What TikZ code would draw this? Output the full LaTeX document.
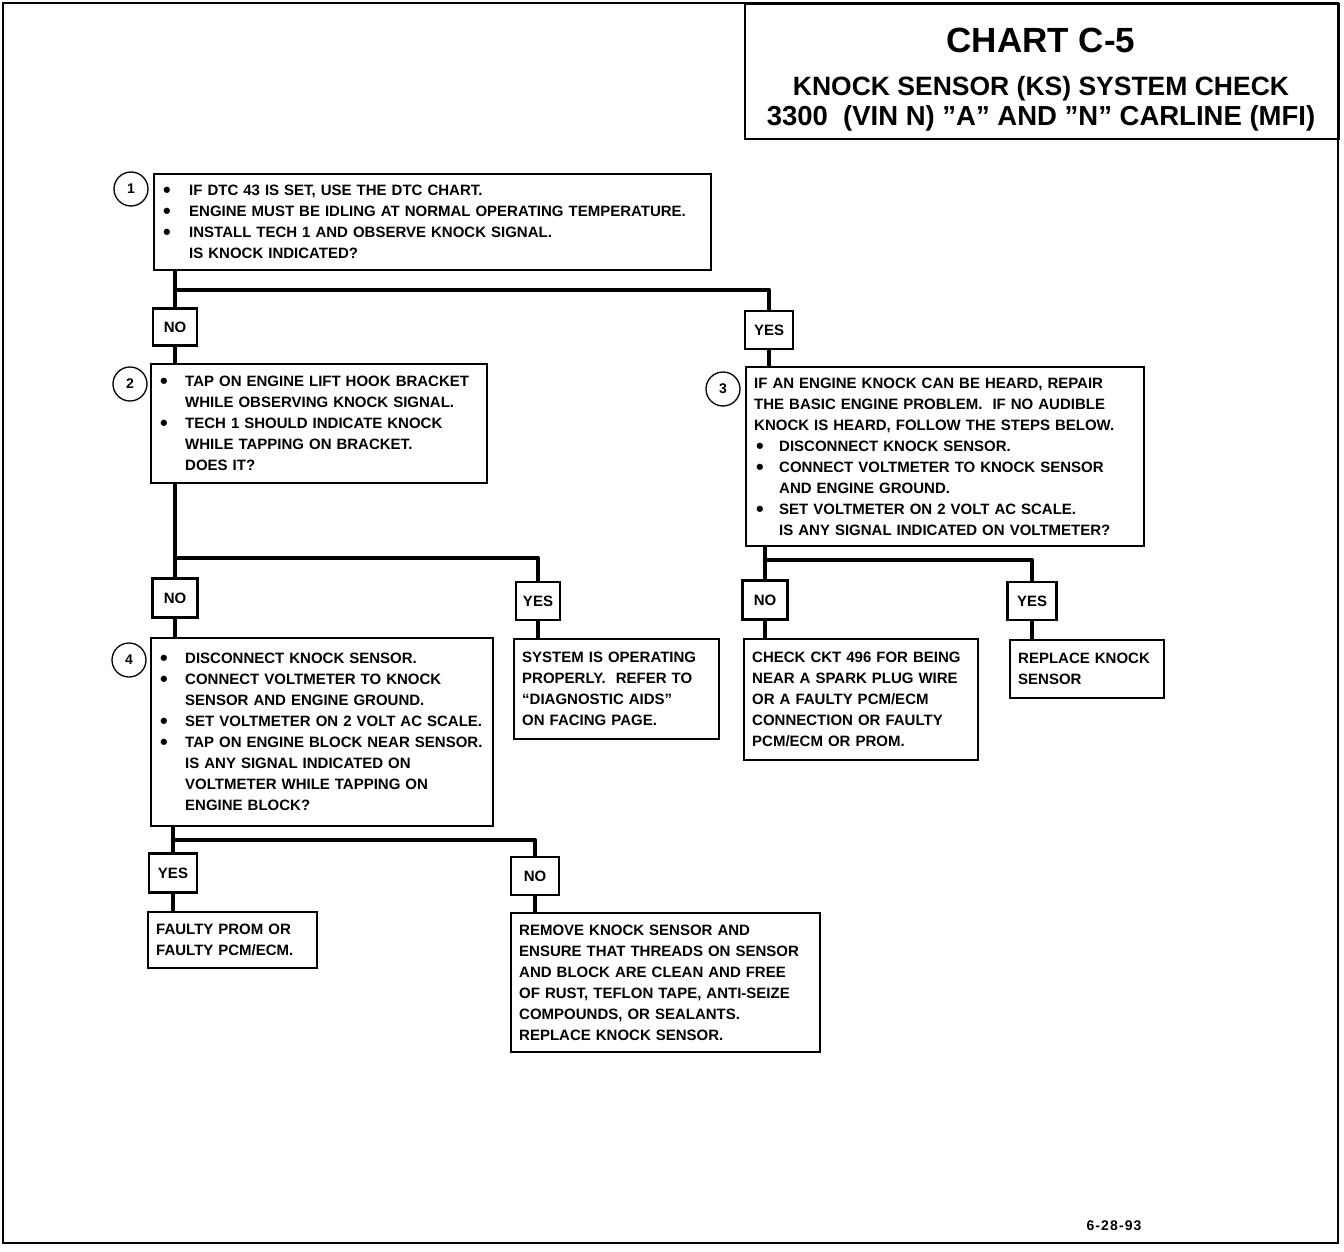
\documentclass[tikz,border=0pt]{standalone}
\usepackage{graphicx}
\usepackage{fontspec}
\setmainfont{Liberation Sans}
\usetikzlibrary{positioning}
\tikzset{
  frame/.style={line width=2.4pt},
  qbox/.style={draw,line width=2.4pt,anchor=north west,align=left,
    inner xsep=9pt,inner ysep=0pt,font=\fontsize{15}{21}\selectfont\bfseries},
  endbox/.style={qbox,inner xsep=8pt},
  ans/.style={draw,line width=2.4pt,minimum width=44pt,minimum height=37pt,
    inner sep=0pt,font=\fontsize{15}{18}\selectfont\bfseries},
  stepnum/.style={circle,draw,line width=1.3pt,minimum size=34pt,
    inner sep=0pt,font=\fontsize{14}{14}\selectfont\bfseries},
  conn/.style={line width=4.5pt,line join=round},
  titletxt/.style={anchor=base,inner sep=0pt,font=\bfseries},
}
\newcommand{\bul}[1][25pt]{\makebox[#1][l]{\raisebox{-2pt}{\scalebox{1.45}{\textbullet}}}}

\begin{document}
\begin{tikzpicture}[x=1pt,y=-1pt]
  \useasboundingbox (0,0) rectangle (1344,1252);
  \draw[frame] (3,3) rectangle (1338,1243);

  % title block
  \node[draw,line width=2.4pt,anchor=north west,minimum width=594pt,
    minimum height=135pt,inner sep=0pt] (chart) at (744,3) {};
  \node[titletxt,font=\fontsize{35}{35}\selectfont\bfseries] (t1) at (1041,53) {CHART C-5};
  \node[titletxt,font=\fontsize{26.5}{27}\selectfont\bfseries] (t2) at (1041,96) {KNOCK SENSOR (KS) SYSTEM CHECK};
  \node[titletxt,font=\fontsize{27.5}{28}\selectfont\bfseries] (t3) at (1041,126) {3300\ \ (VIN N) ”A” AND ”N” CARLINE (MFI)};

  % step numbers
  \foreach \n/\x/\y in {1/131/189,2/130/384,3/723/389,4/129/660}
    \node[stepnum] (c\n) at (\x,\y) {\n};

  % questions
  \node[qbox,text width=539pt,minimum height=96pt] (b1) at (153,173) {%
    \bul[26pt]IF DTC 43 IS SET, USE THE DTC CHART.\\
    \bul[26pt]ENGINE MUST BE IDLING AT NORMAL OPERATING TEMPERATURE.\\
    \bul[26pt]INSTALL TECH 1 AND OBSERVE KNOCK SIGNAL.\\
    \hspace*{26pt}IS KNOCK INDICATED?};
  \node[qbox,text width=318pt,minimum height=119pt] (b2) at (150,363) {%
    \bul TAP ON ENGINE LIFT HOOK BRACKET\\
    \hspace*{25pt}WHILE OBSERVING KNOCK SIGNAL.\\
    \bul TECH 1 SHOULD INDICATE KNOCK\\
    \hspace*{25pt}WHILE TAPPING ON BRACKET.\\
    \hspace*{25pt}DOES IT?};
  \node[qbox,inner xsep=8pt,text width=382pt,minimum height=179pt] (b3) at (745,366) {%
    IF AN ENGINE KNOCK CAN BE HEARD, REPAIR\\
    THE BASIC ENGINE PROBLEM.\ \ IF NO AUDIBLE\\
    KNOCK IS HEARD, FOLLOW THE STEPS BELOW.\\
    \hspace*{2pt}\bul[23pt]DISCONNECT KNOCK SENSOR.\\
    \hspace*{2pt}\bul[23pt]CONNECT VOLTMETER TO KNOCK SENSOR\\
    \hspace*{25pt}AND ENGINE GROUND.\\
    \hspace*{2pt}\bul[23pt]SET VOLTMETER ON 2 VOLT AC SCALE.\\
    \hspace*{25pt}IS ANY SIGNAL INDICATED ON VOLTMETER?};
  \node[qbox,text width=324pt,minimum height=188pt] (b4) at (150,637) {%
    \bul DISCONNECT KNOCK SENSOR.\\
    \bul CONNECT VOLTMETER TO KNOCK\\
    \hspace*{25pt}SENSOR AND ENGINE GROUND.\\
    \bul SET VOLTMETER ON 2 VOLT AC SCALE.\\
    \bul TAP ON ENGINE BLOCK NEAR SENSOR.\\
    \hspace*{25pt}IS ANY SIGNAL INDICATED ON\\
    \hspace*{25pt}VOLTMETER WHILE TAPPING ON\\
    \hspace*{25pt}ENGINE BLOCK?};

  % results
  \node[endbox,text width=189pt,minimum height=100pt] (ok) at (513,638) {%
    SYSTEM IS OPERATING\\
    PROPERLY.\ \ REFER TO\\
    “DIAGNOSTIC AIDS”\\
    ON FACING PAGE.};
  \node[endbox,text width=218pt,minimum height=121pt] (ckt) at (743,638) {%
    CHECK CKT 496 FOR BEING\\
    NEAR A SPARK PLUG WIRE\\
    OR A FAULTY PCM/ECM\\
    CONNECTION OR FAULTY\\
    PCM/ECM OR PROM.};
  \node[endbox,text width=138pt,minimum height=58pt] (repl) at (1009,639) {%
    REPLACE KNOCK\\
    SENSOR};
  \node[endbox,text width=153pt,minimum height=56pt] (prom) at (147,911) {%
    FAULTY PROM OR\\
    FAULTY PCM/ECM.};
  \node[endbox,text width=293pt,minimum height=139pt] (rem) at (510,912) {%
    REMOVE KNOCK SENSOR AND\\
    ENSURE THAT THREADS ON SENSOR\\
    AND BLOCK ARE CLEAN AND FREE\\
    OF RUST, TEFLON TAPE, ANTI-SEIZE\\
    COMPOUNDS, OR SEALANTS.\\
    REPLACE KNOCK SENSOR.};

  % answers
  \node[ans] (no1) at (175,327) {NO};
  \node[ans,minimum width=48pt,minimum height=38pt] (yes1) at (769,330) {YES};
  \node[ans,minimum width=45pt,minimum height=39pt] (no2) at (175,598) {NO};
  \node[ans,minimum height=38pt] (yes2) at (538,601) {YES};
  \node[ans,minimum width=45pt,minimum height=39pt] (no3) at (765,600) {NO};
  \node[ans,minimum width=49pt,minimum height=38pt] (yes3) at (1032,601) {YES};
  \node[ans,minimum width=48pt,minimum height=39pt] (yes4) at (173,873) {YES};
  \node[ans,minimum width=48pt,minimum height=38pt] (no4) at (535,876) {NO};

  \coordinate (j1) at (175,290);
  \coordinate (j2) at (175,558);
  \coordinate (j3) at (765,560);
  \coordinate (j4) at (173,840);

  % connectors
  \draw[conn] (no1.north |- b1.south) -- (no1.north);
  \draw[conn] (j1) -| (yes1.north);
  \draw[conn] (no1.south) -- (no1.south |- b2.north);
  \draw[conn] (yes1.south) -- (yes1.south |- b3.north);
  \draw[conn] (no2.north |- b2.south) -- (no2.north);
  \draw[conn] (j2) -| (yes2.north);
  \draw[conn] (no2.south) -- (no2.south |- b4.north);
  \draw[conn] (yes2.south) -- (yes2.south |- ok.north);
  \draw[conn] (no3.north |- b3.south) -- (no3.north);
  \draw[conn] (j3) -| (yes3.north);
  \draw[conn] (no3.south) -- (no3.south |- ckt.north);
  \draw[conn] (yes3.south) -- (yes3.south |- repl.north);
  \draw[conn] (yes4.north |- b4.south) -- (yes4.north);
  \draw[conn] (j4) -| (no4.north);
  \draw[conn] (yes4.south) -- (yes4.south |- prom.north);
  \draw[conn] (no4.south) -- (no4.south |- rem.north);

  \node[inner sep=0pt,font=\fontsize{14}{14}\selectfont\bfseries\addfontfeature{LetterSpace=8}] (date) at (1114,1226) {6-28-93};
\end{tikzpicture}
\end{document}
